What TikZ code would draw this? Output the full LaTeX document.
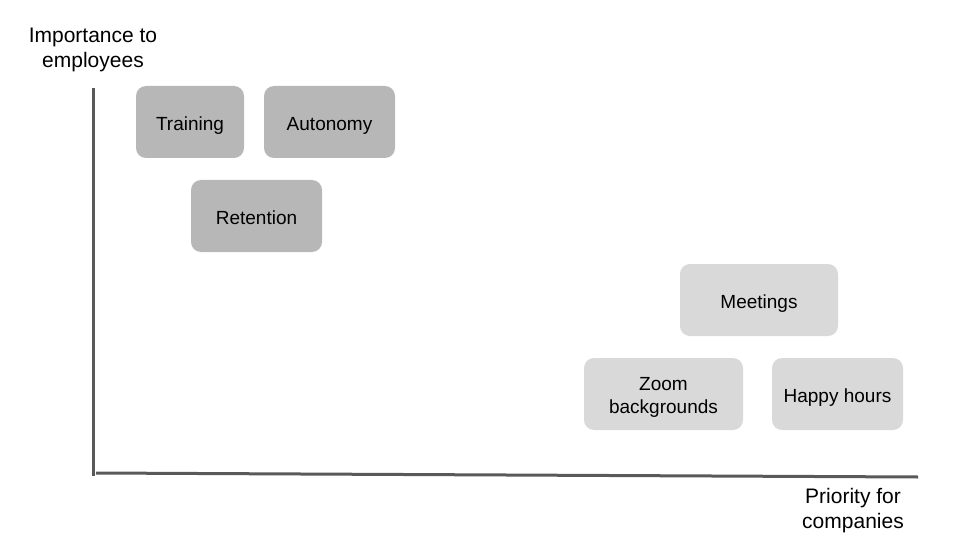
\documentclass[tikz,border=0pt]{standalone}
\usepackage{fontspec}
\setmainfont{Liberation Sans}
\definecolor{axisgray}{HTML}{595959}
\definecolor{highgray}{HTML}{B7B7B7}
\definecolor{lowgray}{HTML}{D9D9D9}
\begin{document}
\begin{tikzpicture}[
    x=1pt, y=-1pt,
  itembox/.style={rectangle, rounded corners=10pt, draw=none, minimum height=72pt, text height=21pt, text depth=4pt, text centered, align=center, font=\fontsize{19}{23}\selectfont},
  highitem/.style={itembox, fill=highgray},
  lowitem/.style={itembox, fill=lowgray},
  axislabel/.style={align=center, font=\fontsize{21}{25}\selectfont},
  axisline/.style={draw=axisgray, line width=3pt}
]
\useasboundingbox (0,0) rectangle (960,540);

% Axes
\coordinate (ytop) at (93, 88);
\coordinate (origin) at (93, 476);
\coordinate (xstart) at (96, 473);
\coordinate (xend) at (918, 477);
\draw[axisline] (ytop) -- (origin);
\draw[axisline] (xstart) -- (xend);

\node[axislabel] (ylabel) at (93, 50) {Importance to\\employees};
\node[axislabel] (xlabel) at (853, 511) {Priority for\\companies};

% High importance items
\node[highitem, minimum width=108pt] (training) at (190, 122) {Training};
\node[highitem, minimum width=131pt] (autonomy) at (329.5, 122) {Autonomy};
\node[highitem, minimum width=131pt] (retention) at (256.5, 216) {Retention};

% High priority items
\node[lowitem, minimum width=158pt] (meetings) at (759, 300) {Meetings};
\node[lowitem, minimum width=159pt, text height=43pt] (zoom) at (663.5, 394) {Zoom\\backgrounds};
\node[lowitem, minimum width=131pt] (happy) at (837.5, 394) {Happy hours};

\end{tikzpicture}
\end{document}
